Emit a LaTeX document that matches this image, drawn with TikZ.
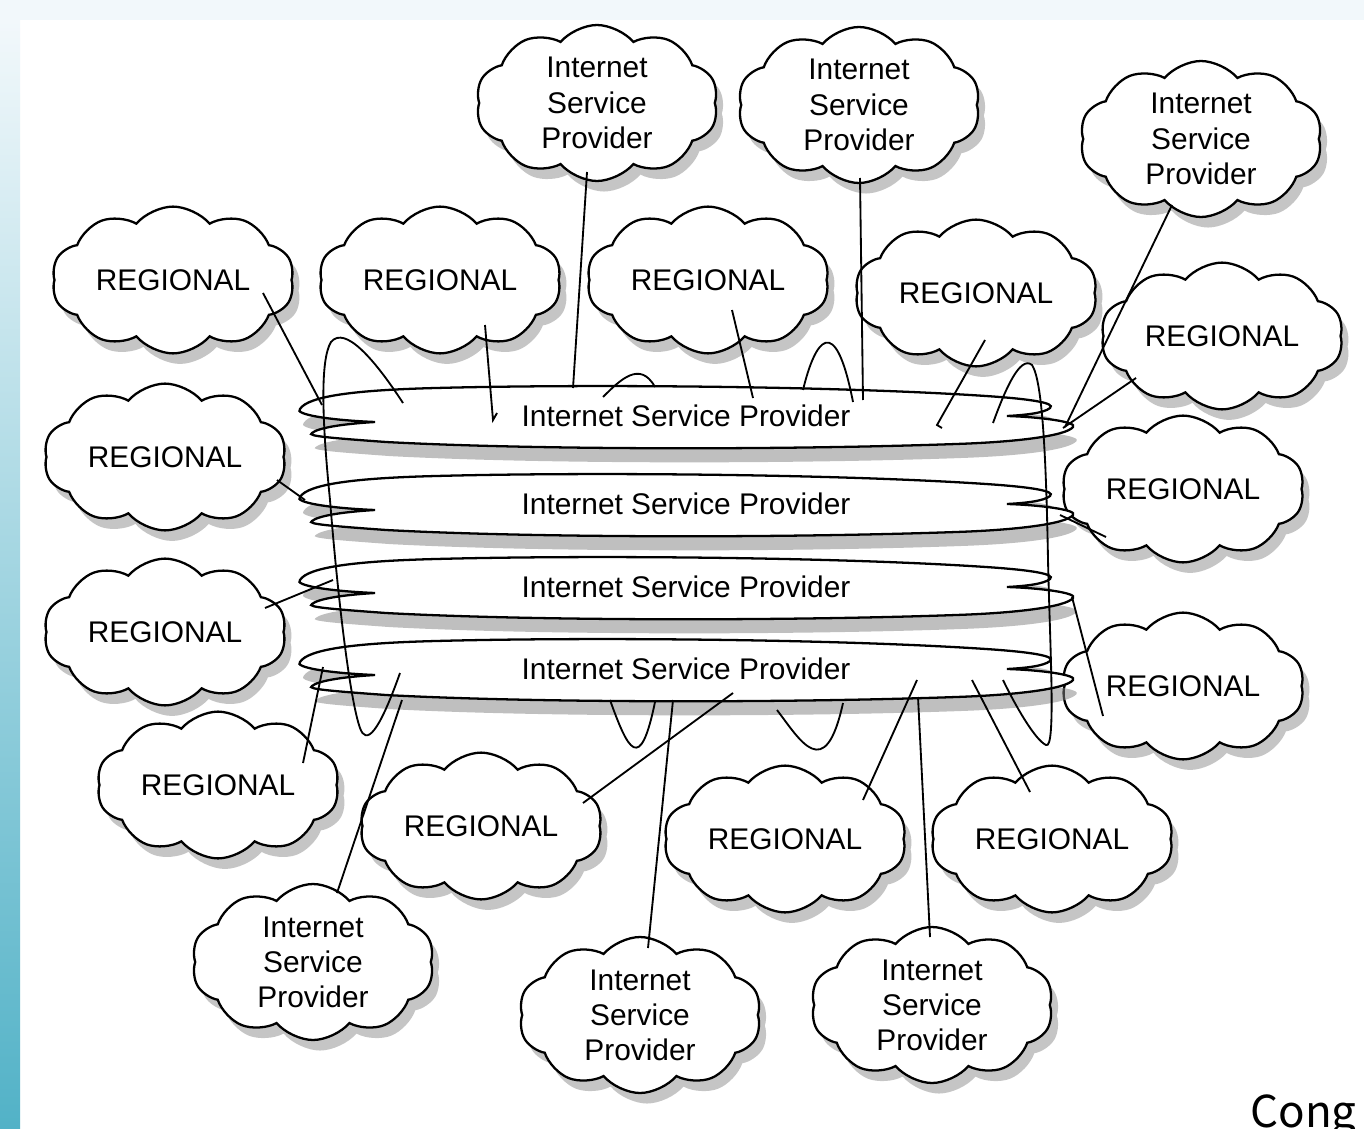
\documentclass[tikz,border=0pt]{standalone}
\usepackage{fontspec}
\setmainfont{Liberation Sans}
\newfontfamily\congfont{Noto Sans CJK JP}
\usetikzlibrary{shapes.symbols,shadows}
\definecolor{bgpale}{HTML}{F2F8FB}
\definecolor{stripteal}{HTML}{52B2C7}

\begin{document}
\begin{tikzpicture}[x=0.02cm,y=-0.02cm,
    font=\fontsize{17}{20}\selectfont,
    puff/.style={cloud,cloud puffs=10,cloud puff arc=100,aspect=1.8,draw,
      line width=1.3pt,fill=white,inner sep=0pt,
      minimum width=4.85cm,minimum height=2.5cm,
      drop shadow={shadow xshift=4pt,shadow yshift=-6pt,opacity=.45}},
    regional/.style={puff},
    isp/.style={puff,align=center},
    band/.style={draw,line width=1.3pt,fill=white,
      drop shadow={shadow xshift=2pt,shadow yshift=-8pt,opacity=.5}},
    link/.style={line width=1.05pt}]
  \useasboundingbox (0,0) rectangle (1364,1128);
  % background
  \fill[bgpale] (0,0) rectangle (1364,1128);
  \fill[white] (20,20) rectangle (1364,1128);
  \shade[top color=bgpale,bottom color=stripteal] (0,20) rectangle (20,1128);

  % top providers
  \node[isp] (ispt1) at (597,103) {Internet\\Service\\Provider};
  \node[isp] (ispt2) at (859,105) {Internet\\Service\\Provider};
  \node[isp] (ispt3) at (1201,139) {Internet\\Service\\Provider};
  % regionals
  \node[regional] (reg1) at (173,280) {REGIONAL};
  \node[regional] (reg2) at (440,280) {REGIONAL};
  \node[regional] (reg3) at (708,280) {REGIONAL};
  \node[regional] (reg4) at (976,293) {REGIONAL};
  \node[regional] (reg5) at (1222,336) {REGIONAL};
  \node[regional] (reg6) at (165,457) {REGIONAL};
  \node[regional] (reg7) at (165,632) {REGIONAL};
  \node[regional] (reg8) at (1183,489) {REGIONAL};
  \node[regional] (reg9) at (1183,686) {REGIONAL};
  \node[regional] (reg10) at (218,785) {REGIONAL};
  \node[regional] (reg11) at (481,826) {REGIONAL};
  \node[regional] (reg12) at (785,839) {REGIONAL};
  \node[regional] (reg13) at (1052,839) {REGIONAL};
  % bottom providers
  \node[isp] (ispb1) at (313,962) {Internet\\Service\\Provider};
  \node[isp] (ispb2) at (640,1015) {Internet\\Service\\Provider};
  \node[isp] (ispb3) at (932,1005) {Internet\\Service\\Provider};

  % the flat backbone clouds
  \foreach \i/\y in {1/416,2/504,3/587,4/669}{
    \begin{scope}[shift={(686,\y)}]
      \path[band] (-311,6) .. controls (-360,4) and (-392,-2) .. (-386,-7)
        .. controls (-378,-20) and (-330,-26) .. (-250,-28)
        .. controls (-100,-32) and (150,-30) .. (300,-20)
        .. controls (345,-17) and (370,-13) .. (364,-8)
        .. controls (358,-3) and (340,-1) .. (321,0)
        .. controls (355,1) and (392,6) .. (387,11)
        .. controls (380,20) and (330,26) .. (270,28)
        .. controls (100,34) and (-150,34) .. (-300,26)
        .. controls (-355,22) and (-380,20) .. (-374,17)
        .. controls (-368,12) and (-345,8) .. (-311,6) -- cycle;
    \end{scope}
    \node (band\i) at (686,\y) {Internet Service Provider};
  }

  % links
  \draw[link] ([shift={(-10,69)}]ispt1.center) -- ([shift={(-113,-28)}]band1.center);
  \draw[link] ([shift={(1,73)}]ispt2.center) -- ([shift={(177,-16)}]band1.center);
  \draw[link] ([shift={(-29,66)}]ispt3.center) -- ([shift={(379,11)}]band1.center);
  \draw[link] ([shift={(90,13)}]reg1.center) -- ([shift={(-364,-11)}]band1.center);
  \draw[link] ([shift={(45,45)}]reg2.center) -- ([shift={(-193,4)}]band1.center) -- ++(4,-7);
  \draw[link] ([shift={(24,30)}]reg3.center) -- ([shift={(67,-18)}]band1.center);
  \draw[link] ([shift={(9,47)}]reg4.center) -- ([shift={(251,9)}]band1.center) -- ++(5,3);
  \draw[link] ([shift={(-86,42)}]reg5.center) -- ([shift={(377,12)}]band1.center);
  \draw[link] ([shift={(112,23)}]reg6.center) -- ([shift={(-381,-4)}]band2.center);
  \draw[link] ([shift={(100,-24)}]reg7.center) -- ([shift={(-353,-7)}]band3.center);
  \draw[link] ([shift={(-77,48)}]reg8.center) -- ([shift={(374,11)}]band2.center);
  \draw[link] ([shift={(-80,30)}]reg9.center) -- ([shift={(386,10)}]band3.center);
  \draw[link] ([shift={(85,-22)}]reg10.center) -- ([shift={(-363,-2)}]band4.center);
  \draw[link] ([shift={(102,-23)}]reg11.center) -- ([shift={(47,24)}]band4.center);
  \draw[link] ([shift={(78,-39)}]reg12.center) -- ([shift={(231,11)}]band4.center);
  \draw[link] ([shift={(-22,-47)}]reg13.center) -- ([shift={(286,11)}]band4.center);
  \draw[link] ([shift={(24,-69)}]ispb1.center) -- ([shift={(-284,31)}]band4.center);
  \draw[link] ([shift={(8,-67)}]ispb2.center) -- ([shift={(-13,31)}]band4.center);
  \draw[link] ([shift={(-2,-68)}]ispb3.center) -- ([shift={(232,28)}]band4.center);

  % loops between the backbones
  \draw[link] ([shift={(-283,-13)}]band1.center) .. controls (375,360) and (345,325) .. (331,342)
    .. controls (320,360) and (322,420) .. (330,500)
    .. controls (338,600) and (350,700) .. (360,728)
    .. controls (366,745) and (378,735) .. ([shift={(-286,4)}]band4.center);
  \draw[link] ([shift={(307,7)}]band1.center) .. controls (1005,390) and (1020,355) .. (1032,365)
    .. controls (1042,380) and (1046,450) .. (1048,560)
    .. controls (1050,650) and (1056,750) .. (1046,745)
    .. controls (1035,740) and (1015,705) .. ([shift={(317,11)}]band4.center);
  \draw[link] ([shift={(-83,-19)}]band1.center) .. controls (620,380) and (640,360) .. ([shift={(-31,-29)}]band1.center);
  \draw[link] ([shift={(117,-26)}]band1.center) .. controls (815,340) and (835,310) .. ([shift={(167,-14)}]band1.center);
  \draw[link] ([shift={(-76,31)}]band4.center) .. controls (628,750) and (640,775) .. ([shift={(-31,33)}]band4.center);
  \draw[link] ([shift={(91,41)}]band4.center) .. controls (800,740) and (825,785) .. ([shift={(157,34)}]band4.center);

  \node[anchor=base west,inner sep=0pt,font=\congfont\fontsize{25}{30}\selectfont] (cong) at (1250,1127) {Cong};
\end{tikzpicture}
\end{document}
